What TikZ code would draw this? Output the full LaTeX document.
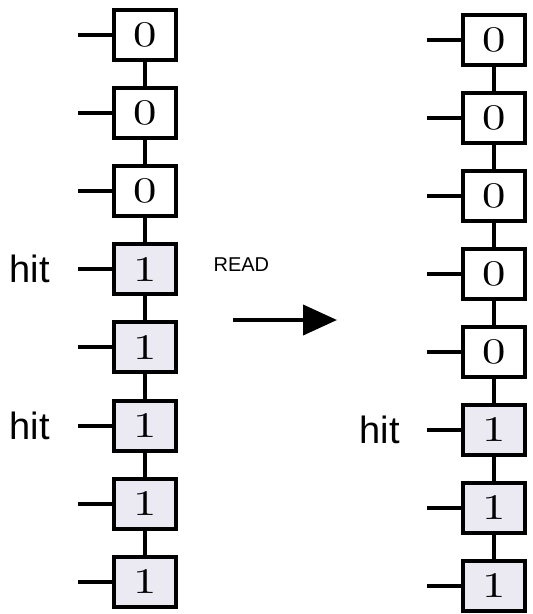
\documentclass[tikz,border=0pt]{standalone}
\usepackage{fontspec}
\newfontfamily\labelfont{Liberation Sans}
\newfontfamily\digitfont{lmroman10-regular.otf}
\usetikzlibrary{arrows.meta}
\definecolor{setfill}{RGB}{235,233,242}
% bit values are set slightly widened
\newcommand\bitval[1]{\scalebox{1.3}[1]{#1}}
\tikzset{
  cell/.style={draw=black, line width=4pt, minimum width=62pt, minimum height=50pt,
    inner sep=0pt, font=\digitfont\fontsize{36}{40}\selectfont},
  zerocell/.style={cell, fill=white},
  onecell/.style={cell, fill=setfill},
  wire/.style={draw=black, line width=4pt},
  hitlabel/.style={font=\labelfont\fontsize{38}{42}\selectfont, inner sep=0pt, anchor=base west},
  oplabel/.style={font=\labelfont\fontsize{20}{24}\selectfont, inner sep=0pt, anchor=base west},
  flow/.style={line width=4pt, -{Triangle[length=34pt,width=30pt]}}
}
\begin{document}
\begin{tikzpicture}[x=1pt,y=-1pt]
\useasboundingbox (0,0) rectangle (533,614);

% left column: bit vector before the read
\foreach \i/\v/\s in {1/0/zerocell,2/0/zerocell,3/0/zerocell,4/1/onecell,5/1/onecell,6/1/onecell,7/1/onecell,8/1/onecell}{
  \node[\s] (L\i) at (145,{35+78.1*(\i-1)}) {\bitval{\v}};
  \coordinate (LS\i) at (78,{35+78.1*(\i-1)});
  \draw[wire] (LS\i) -- (L\i.west);
}
\foreach \i [evaluate=\i as \j using int(\i+1)] in {1,...,7}{
  \draw[wire] (L\i.south) -- (L\j.north);
}

% right column: bit vector after the read
\foreach \i/\v/\s in {1/0/zerocell,2/0/zerocell,3/0/zerocell,4/0/zerocell,5/0/zerocell,6/1/onecell,7/1/onecell,8/1/onecell}{
  \node[\s] (R\i) at (494,{40+78*(\i-1)}) {\bitval{\v}};
  \coordinate (RS\i) at (427,{40+78*(\i-1)});
  \draw[wire] (RS\i) -- (R\i.west);
}
\foreach \i [evaluate=\i as \j using int(\i+1)] in {1,...,7}{
  \draw[wire] (R\i.south) -- (R\j.north);
}

% hit markers
\node[hitlabel] (hitA) at (9.5,282) {hit};
\node[hitlabel] (hitB) at (9.5,439) {hit};
\node[hitlabel] (hitC) at (359.5,443) {hit};

% operation arrow
\node[oplabel] (op) at (213.4,271) {READ};
\coordinate (arrS) at (233,320);
\coordinate (arrE) at (337,320);
\draw[flow] (arrS) -- (arrE);
\end{tikzpicture}
\end{document}
